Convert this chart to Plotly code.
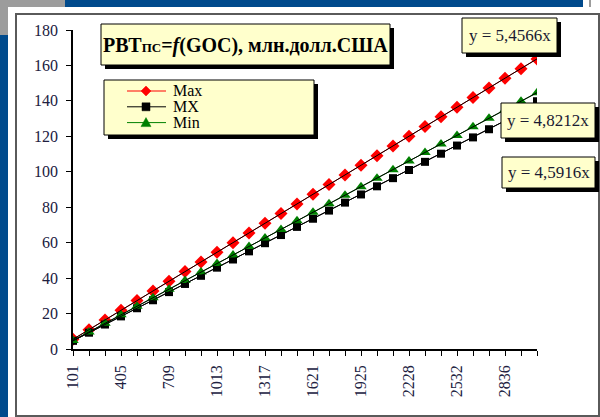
import plotly.graph_objects as go

# категории (ГОС) и значения рядов
categories = ["101", "203", "304", "405", "507", "608", "709", "811", "912", "1013",
              "1115", "1216", "1317", "1419", "1520", "1621", "1723", "1824", "1925", "2026",
              "2127", "2228", "2330", "2431", "2532", "2633", "2735", "2836", "2937", "3039"]
max_vals = [5.5, 10.9, 16.4, 21.8, 27.3, 32.7, 38.2, 43.7, 49.1, 54.6,
            60.0, 65.5, 70.9, 76.4, 81.8, 87.3, 92.8, 98.2, 103.7, 109.1,
            114.6, 120.0, 125.5, 131.0, 136.4, 141.9, 147.3, 152.8, 158.2, 163.7]
mx_vals = [4.6, 9.2, 13.8, 18.4, 23.0, 27.5, 32.1, 36.7, 41.3, 45.9,
           50.5, 55.1, 59.7, 64.3, 68.9, 73.5, 78.1, 82.6, 87.2, 91.8,
           96.4, 101.0, 105.6, 110.2, 114.8, 119.4, 124.0, 128.6, 133.4, 139.8]
min_vals = [4.8, 9.6, 14.5, 19.3, 24.1, 28.9, 33.7, 38.6, 43.4, 48.2,
            53.0, 57.9, 62.7, 67.5, 72.3, 77.1, 82.0, 86.8, 91.6, 96.4,
            101.2, 106.1, 110.9, 115.7, 120.5, 125.4, 130.2, 135.0, 139.8, 144.6]
labeled_ticks = ["101", "405", "709", "1013", "1317", "1621", "1925", "2228", "2532", "2836"]
series_names = ["Max", "MX", "Min"]
equations = ["y = 5,4566x", "y = 4,8212x", "y = 4,5916x"]

W, H = 600, 417
SERIF = "Liberation Serif, Times New Roman, serif"


def px(x):
    return x / W


def py(y):
    return 1 - y / H


def trend(vals):
    # линейный тренд через начало координат, как в Excel
    k = range(1, len(vals) + 1)
    slope = sum(i * v for i, v in zip(k, vals)) / sum(i * i for i in k)
    return [slope * i for i in k]


fig = go.Figure()

styles = [("#ff0000", "diamond", 10), ("#000000", "square", 8), ("#008000", "triangle-up", 10)]
all_vals = [max_vals, mx_vals, min_vals]
for name, vals, (color, symbol, size) in zip(series_names, all_vals, styles):
    fig.add_trace(go.Scatter(
        x=categories, y=vals, name=name, mode="lines+markers",
        line=dict(color=color, width=1),
        marker=dict(symbol=symbol, size=size, color=color),
    ))

for vals in all_vals:
    fig.add_trace(go.Scatter(
        x=categories, y=trend(vals), mode="lines", showlegend=False,
        line=dict(color="#000000", width=1), hoverinfo="skip",
    ))

shapes = []


def rect(x0, y0, x1, y1, fill, line=None, lw=0, layer="below"):
    shapes.append(dict(
        type="rect", xref="paper", yref="paper", layer=layer,
        x0=px(x0), x1=px(x1), y0=py(y1), y1=py(y0),
        fillcolor=fill, line=dict(color=line or fill, width=lw),
    ))


def poly(points, color):
    path = "M " + " L ".join(f"{px(x):.5f},{py(y):.5f}" for x, y in points) + " Z"
    shapes.append(dict(type="path", xref="paper", yref="paper", layer="above",
                       path=path, fillcolor=color, line=dict(color=color, width=0.5)))


# фон слайда
rect(0, 0, 65, 7, "#9c9c9c")
rect(0, 7, 8, 35, "#9c9c9c")
rect(65, 0, 583, 7, "#004a8c")
rect(0, 35, 8, 417, "#004a8c")
rect(589, 0, 591, 7, "#9c9c9c")
# рамка диаграммы
rect(16, 14, 599, 416, "rgba(0,0,0,0)", "#5a5a5a", 2)

# заголовок, легенда и подписи трендов: жёлтые плашки с тенью
boxes = [(101, 24, 390, 65), (104, 80, 314, 135),
         (462, 18, 557, 53), (501, 103, 595, 138), (502, 157, 595, 188)]
for x0, y0, x1, y1 in boxes:
    rect(x0 + 4, y0 + 4, x1 + 4, y1 + 4, "#000000", layer="above")
    rect(x0, y0, x1, y1, "#ffffcc", "#000000", 1, layer="above")

annotations = [dict(
    xref="paper", yref="paper", x=px(245.5), y=py(45), xanchor="center", yanchor="middle",
    showarrow=False,
    text="<b>РВТ<span style='font-size:13px'>ПС</span>=<i>f</i>(GOC), млн.долл.США</b>",
    font=dict(family=SERIF, size=20, color="#000000"),
)]
for (x0, y0, x1, y1), eq in zip(boxes[2:], equations):
    annotations.append(dict(
        xref="paper", yref="paper", x=px((x0 + x1) / 2), y=py((y0 + y1) / 2),
        xanchor="center", yanchor="middle", showarrow=False, text=eq,
        font=dict(family=SERIF, size=17, color="#1a1a33"),
    ))

# легенда вручную (плотнее, чем умеет plotly)
for i, (name, (color, symbol, size)) in enumerate(zip(series_names, styles)):
    yc = 91 + i * 15.8
    shapes.append(dict(type="line", xref="paper", yref="paper", layer="above",
                       x0=px(127), x1=px(166), y0=py(yc), y1=py(yc),
                       line=dict(color=color, width=1)))
    if symbol == "diamond":
        poly([(141, yc), (146, yc - 5), (151, yc), (146, yc + 5)], color)
    elif symbol == "square":
        poly([(142, yc - 4), (150, yc - 4), (150, yc + 4), (142, yc + 4)], color)
    else:
        poly([(141, yc + 4), (151, yc + 4), (146, yc - 5)], color)
    annotations.append(dict(
        xref="paper", yref="paper", x=px(171), y=py(yc), xanchor="left", yanchor="middle",
        showarrow=False, text=name,
        font=dict(family=SERIF, size=16, color="#000000"),
    ))

fig.update_layout(
    width=W, height=H,
    margin=dict(l=0, r=0, t=0, b=0, autoexpand=False),
    paper_bgcolor="#ffffff", plot_bgcolor="rgba(0,0,0,0)",
    shapes=shapes, annotations=annotations,
    showlegend=False,
    xaxis=dict(
        domain=[px(73), px(537)], type="category", range=[0, len(categories) - 1],
        tickvals=categories,
        ticktext=[c if c in labeled_ticks else "" for c in categories],
        tickangle=-90, ticks="outside", ticklen=5, tickcolor="#000000",
        showline=True, linecolor="#000000", linewidth=1.5, automargin=False,
        showgrid=False, zeroline=False, ticklabelstandoff=3,
        tickfont=dict(family=SERIF, size=16, color="#202040"),
    ),
    yaxis=dict(
        domain=[py(349), py(30)], range=[0, 180], dtick=20,
        ticks="outside", ticklen=5, tickcolor="#000000",
        showline=True, linecolor="#000000", linewidth=1.5, automargin=False,
        showgrid=False, zeroline=False, ticklabelstandoff=5,
        tickfont=dict(family=SERIF, size=16, color="#202040"),
    ),
)

fig.write_html("out.html", config={"displayModeBar": False},
               post_script="document.body.style.margin='0';")
